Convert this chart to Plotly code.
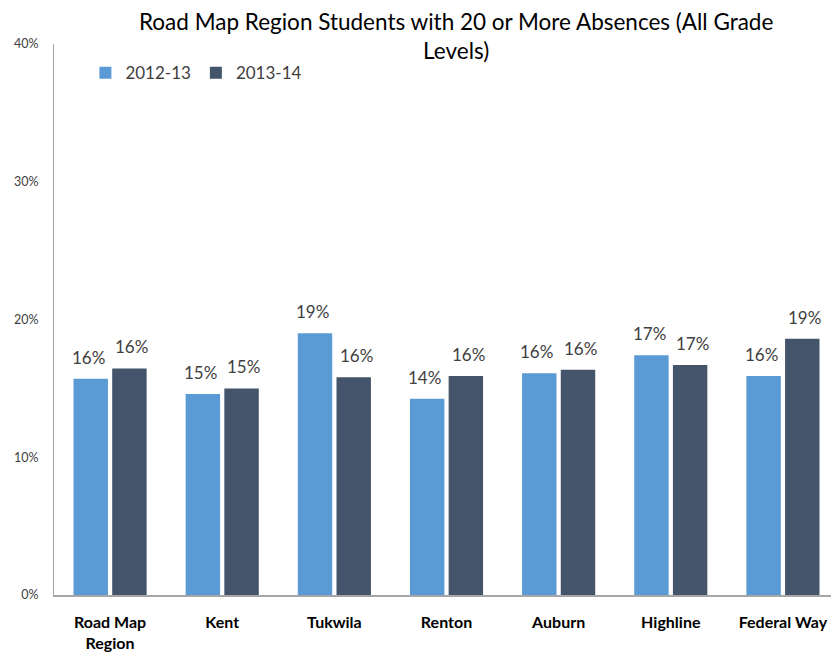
import plotly.graph_objects as go

categories = ["Road Map<br>Region", "Kent", "Tukwila", "Renton", "Auburn", "Highline", "Federal Way"]
series_names = ["2012-13", "2013-14"]
values_2012 = [15.7, 14.6, 19.0, 14.25, 16.1, 17.4, 15.9]
values_2013 = [16.45, 15.0, 15.8, 15.9, 16.35, 16.7, 18.6]
y_ticks = [0, 10, 20, 30, 40]
y_tick_labels = [f"{v}%" for v in y_ticks]
colors = ["#5B9BD5", "#44546A"]

font_family = "Lato, 'Open Sans', sans-serif"
fig = go.Figure()
for name, vals, col in zip(series_names, [values_2012, values_2013], colors):
    fig.add_trace(go.Bar(
        x=categories, y=vals, name=name, marker_color=col,
        marker_line_width=0,
    ))

annotations = []
for vals, shift in zip([values_2012, values_2013], [-21.75, 21.75]):
    for c, v in zip(categories, vals):
        annotations.append(dict(
            x=c, y=v, xref="x", yref="y", text=f"{v:.0f}%", showarrow=False,
            xanchor="center", yanchor="bottom", xshift=shift, yshift=9,
            font=dict(size=17, color="#404040", family=font_family)))

annotations.append(dict(
    text="Road Map Region Students with 20 or More Absences (All Grade<br>Levels)",
    xref="paper", yref="paper", x=0.512, y=1.0, yanchor="bottom",
    xanchor="center", showarrow=False, yshift=-22,
    font=dict(size=22.5, color="#000000", family=font_family)))

fig.update_layout(
    width=831, height=654,
    margin=dict(l=46, r=0, t=36, b=67, autoexpand=False),
    plot_bgcolor="white", paper_bgcolor="white",
    barmode="group", bargap=0.31, bargroupgap=0.11,
    font=dict(family=font_family, color="#404040"),
    showlegend=True,
    legend=dict(orientation="h", x=0.04, y=0.947, xanchor="left", yanchor="middle",
                font=dict(size=17, color="#404040"), traceorder="normal",
                bgcolor="rgba(0,0,0,0)"),
    xaxis=dict(showline=True, linecolor="#A6A6A6", linewidth=1.5,
               ticks="outside", ticklen=12, tickcolor="rgba(0,0,0,0)", automargin=False,
               tickfont=dict(size=16, color="#000000", family=font_family, weight="bold")),
    yaxis=dict(range=[0, 40], tickvals=y_ticks, ticktext=y_tick_labels, showgrid=False,
               showline=True, linecolor="#A6A6A6", linewidth=1, zeroline=False,
               automargin=False, ticks="outside", ticklen=12, tickcolor="rgba(0,0,0,0)",
               tickfont=dict(size=12.5, color="#404040")),
    annotations=annotations,
)
fig.write_html("out.html")
